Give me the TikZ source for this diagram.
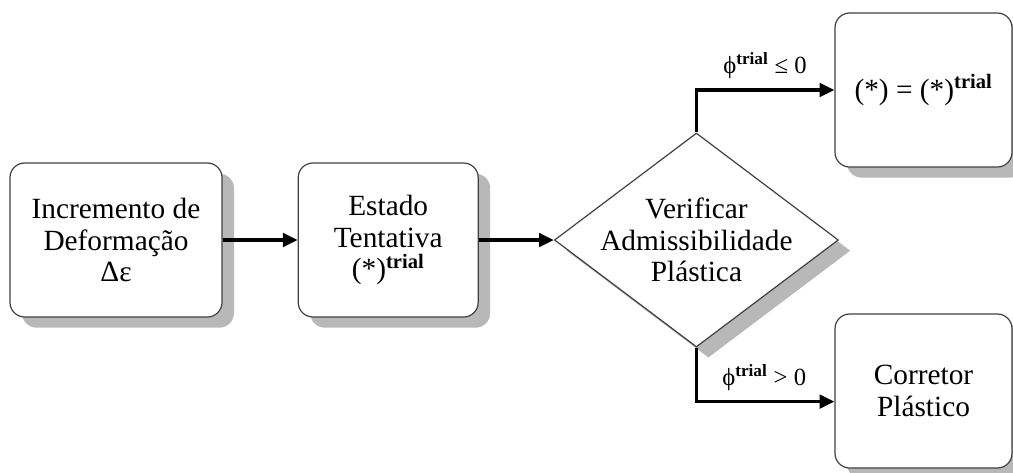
\documentclass[tikz,border=0pt]{standalone}
\usepackage{fontspec}
\setmainfont{Liberation Serif}
\usetikzlibrary{arrows.meta,positioning,shapes.geometric,shadows}

\tikzset{
    caixa/.style={rectangle, rounded corners=11pt, draw=black!75, line width=0.9pt,
        fill=white, align=center, font=\fontsize{22}{23.5}\selectfont,
        minimum height=115.5pt, inner sep=0pt,
        drop shadow={shadow xshift=9pt, shadow yshift=-8pt, fill=black!28, opacity=1}},
    losango/.style={diamond, draw=black!75, line width=0.9pt, fill=white,
        minimum width=213pt, minimum height=160.5pt, inner sep=0pt,
        drop shadow={shadow xshift=9pt, shadow yshift=-8pt, fill=black!28, opacity=1}},
    seta/.style={-{Triangle[length=11pt,width=10pt]}, line width=2.5pt},
    rotulo/.style={font=\fontsize{18.5}{20}\selectfont, inner sep=0pt}
}
\newcommand{\trl}{\textsuperscript{\textbf{trial}}}

\begin{document}
\begin{tikzpicture}[x=0.75pt,y=-0.75pt]
    \useasboundingbox (0,0) rectangle (1013,472);
    \node[caixa, minimum width=159pt]  (inc) at (116,240)     {Incremento de\\Deformação\\Δε};
    \node[caixa, minimum width=135pt]  (est) [right=56.25pt of inc] {Estado\\Tentativa\\(*)\trl};
    \node[losango]  (ver) [right=56.25pt of est]
        {};
    \node[align=center, font=\fontsize{22}{23.5}\selectfont] at (ver) {Verificar\\Admissibilidade\\Plástica};
    \node[caixa, minimum width=132.75pt]  (adm) at (923.5,90)  {(*) = (*)\trl};
    \node[caixa, minimum width=132.75pt]  (cor) at (923.5,391) {Corretor\\Plástico};

    \draw[seta] (inc) -- (est);
    \draw[seta] (est) -- (ver);
    \draw[seta] (ver.north) |- (adm.west);
    \draw[seta] (ver.south) -- ++(0,54) coordinate (kb) -- (kb -| cor.west);

    \node[rotulo, anchor=base west] (le) at (723,73)  {ϕ\trl{} ≤ 0};
    \node[rotulo, anchor=base west] (gt) at (722,385) {ϕ\trl{} > 0};
\end{tikzpicture}
\end{document}
